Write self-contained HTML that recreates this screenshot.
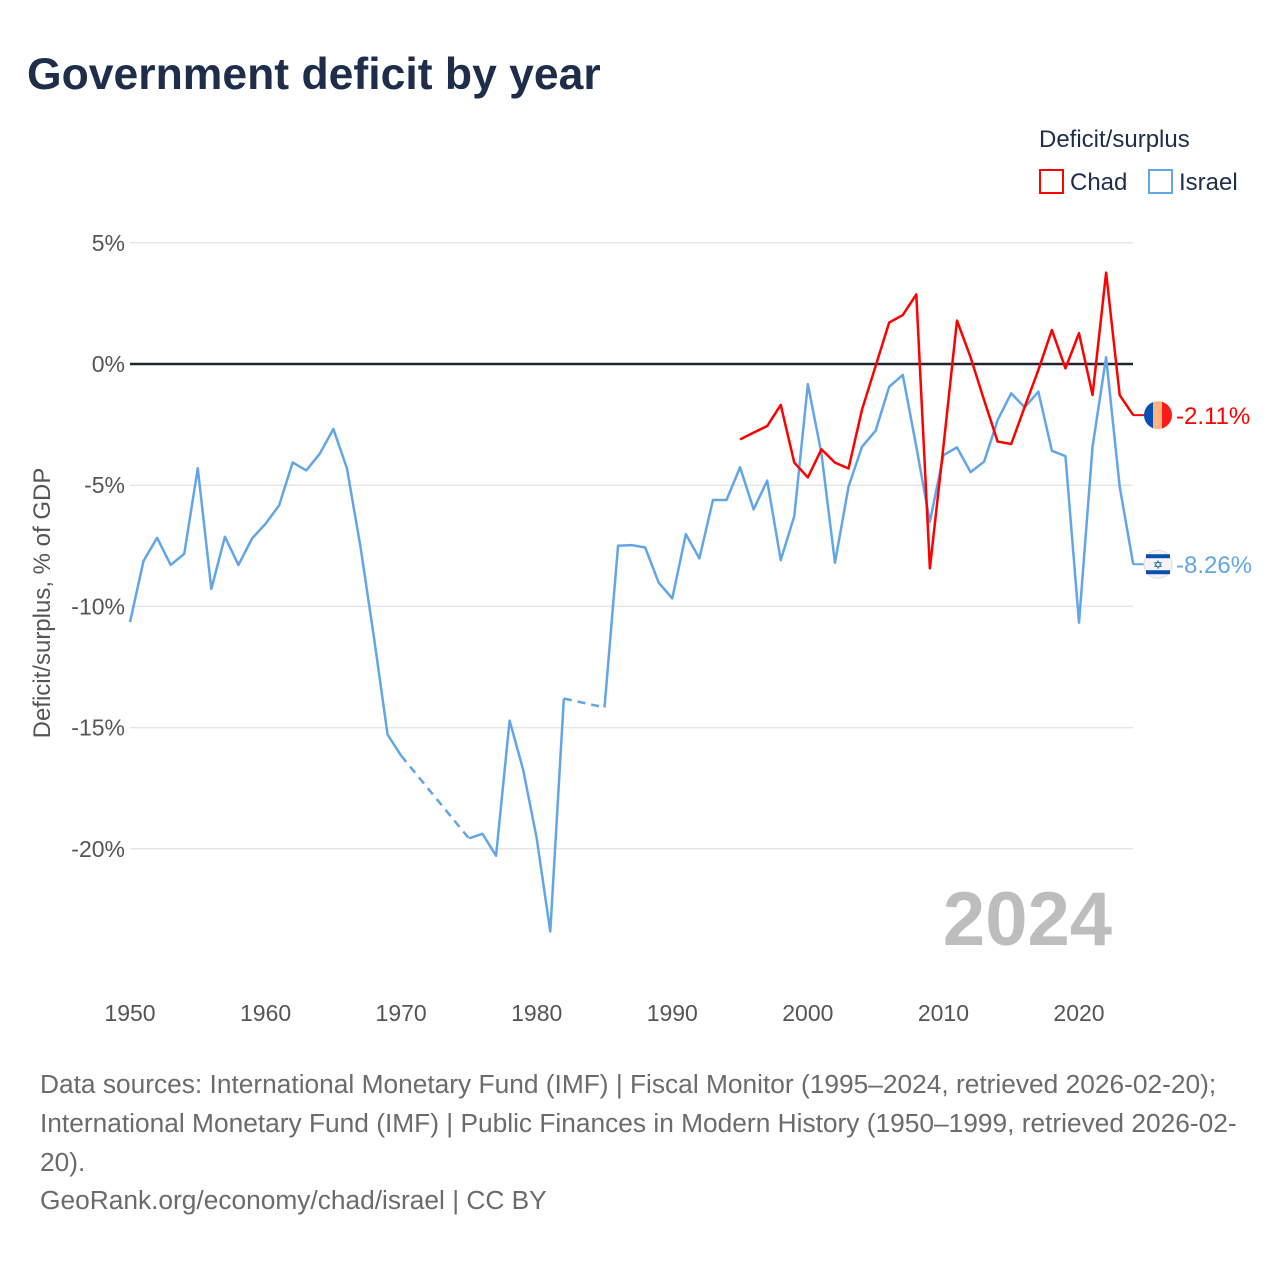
<!DOCTYPE html>
<html><head><meta charset="utf-8"><style>
html,body{margin:0;padding:0;background:#fff;}
body{width:1280px;height:1280px;position:relative;font-family:"Liberation Sans",sans-serif;overflow:hidden;}
#title{position:absolute;left:27px;top:50px;font-size:44.5px;font-weight:bold;color:#1e2d4a;margin:0;}
.foot{position:absolute;left:40px;font-size:26.3px;color:#6b6b6b;white-space:nowrap;}
</style></head><body>
<h1 id="title">Government deficit by year</h1>
<svg id="chart" width="1280" height="1060" style="position:absolute;left:0;top:0" xmlns="http://www.w3.org/2000/svg" font-family="Liberation Sans, sans-serif"></svg>
<div class="foot" style="top:1069px">Data sources: International Monetary Fund (IMF) | Fiscal Monitor (1995–2024, retrieved 2026-02-20);</div>
<div class="foot" style="top:1108px">International Monetary Fund (IMF) | Public Finances in Modern History (1950–1999, retrieved 2026-02-</div>
<div class="foot" style="top:1147px">20).</div>
<div class="foot" style="top:1185px">GeoRank.org/economy/chad/israel | CC BY</div>
<script>
const years = [];
for (let y = 1950; y <= 2024; y++) years.push(y);
const israelValues = [-10.65,-8.12,-7.17,-8.29,-7.83,-4.30,-9.28,-7.13,-8.29,-7.20,
-6.59,-5.83,-4.06,-4.39,-3.70,-2.68,-4.30,-7.54,-11.30,-15.29,
-16.16,null,null,null,null,-19.57,-19.38,-20.29,-14.71,-16.74,
-19.57,-23.41,-13.80,null,null,-14.17,-7.50,-7.47,-7.57,-9.02,
-9.67,-7.02,-8.02,-5.61,-5.61,-4.26,-6.00,-4.81,-8.09,-6.27,
-0.83,-3.69,-8.20,-5.06,-3.41,-2.75,-0.94,-0.45,-3.41,-6.51,
-3.76,-3.44,-4.46,-4.03,-2.31,-1.21,-1.79,-1.14,-3.58,-3.80,
-10.67,-3.41,0.28,-5.06,-8.26];
const chadYears = [1995,1996,1997,1998,1999,2000,2001,2002,2003,2004,2005,2006,2007,2008,2009,2010,2011,2012,2013,2014,2015,2016,2017,2018,2019,2020,2021,2022,2023,2024];
const chadValues = [-3.11,-2.83,-2.56,-1.69,-4.07,-4.68,-3.52,-4.07,-4.31,-1.87,-0.08,1.71,2.02,2.87,-8.43,-3.41,1.79,0.28,-1.49,-3.20,-3.30,-1.76,-0.25,1.40,-0.18,1.27,-1.28,3.77,-1.28,-2.11];
const yTicks = [5,0,-5,-10,-15,-20];
const yTickLabels = ["5%","0%","-5%","-10%","-15%","-20%"];
const xTicks = [1950,1960,1970,1980,1990,2000,2010,2020];

const NS = "http://www.w3.org/2000/svg";
const svg = document.getElementById('chart');
const X = yr => 130 + (yr - 1950) * (1079 - 130) / 70;
const Y = v => 364 - v * 24.24;
function el(tag, attrs, parent){const e=document.createElementNS(NS,tag);for(const k in attrs)e.setAttribute(k,attrs[k]);(parent||svg).appendChild(e);return e;}

yTicks.forEach((t,i)=>{
  const g = el('line',{x1:130,x2:1133,y1:Y(t),y2:Y(t),stroke:t===0?'#1e2633':'#e6e6e6','stroke-width':t===0?2.5:1.5});
  
  
  const l = el('text',{x:125,y:Y(t)+8,'text-anchor':'end','font-size':23,fill:'#555'});
  l.textContent = yTickLabels[i];
  
  
});
xTicks.forEach(t=>{
  const l = el('text',{x:X(t),y:1021,'text-anchor':'middle','font-size':23,fill:'#555'});
  l.textContent = t;
  
  
});
const yt = el('text',{transform:'translate(50,603) rotate(-90)','text-anchor':'middle','font-size':24,fill:'#555'});
yt.textContent = 'Deficit/surplus, % of GDP';



const wm = el('text',{x:1112,y:945,'text-anchor':'end','font-size':76,'font-weight':'bold',fill:'#bdbdbd'});
wm.textContent = '2024';



function drawSeries(xs, vs, color, name){
  let seg=[], lastPt=null, pendingGap=false;
  const solids=[], dashes=[];
  for(let i=0;i<xs.length;i++){
    if(vs[i]===null){ if(seg.length){solids.push(seg);} seg=[]; pendingGap=true; continue; }
    const p=[X(xs[i]),Y(vs[i])];
    if(pendingGap && lastPt){ dashes.push([lastPt,p]); }
    pendingGap=false;
    seg.push(p); lastPt=p;
  }
  if(seg.length) solids.push(seg);
  solids.forEach(s=>{
    const pl = el('polyline',{points:s.map(p=>p.join(',')).join(' '),fill:'none',stroke:color,'stroke-width':2.5,'stroke-linejoin':'round'});
    
    
  });
  dashes.forEach(d=>{
    const ln = el('line',{x1:d[0][0],y1:d[0][1],x2:d[1][0],y2:d[1][1],stroke:color,'stroke-width':2.5,'stroke-dasharray':'8,6'});
    
    
  });
}
drawSeries(years, israelValues, '#62a6e8', 'israel');
drawSeries(chadYears, chadValues, '#ff0000', 'chad');

const cv = chadValues[chadValues.length-1], iv = israelValues[israelValues.length-1];
const cy = Y(cv), iy = Y(iv);
const cf = el('g',{});


el('line',{x1:1133,y1:cy,x2:1146,y2:cy,stroke:'#ff0000','stroke-width':2},cf);
const cp = el('clipPath',{id:'cc'});
el('circle',{cx:1158,cy:cy,r:14},cp);
el('rect',{x:1144,y:cy-14,width:10,height:28,fill:'#0a50b4','clip-path':'url(#cc)'},cf);
el('rect',{x:1153,y:cy-14,width:10,height:28,fill:'#ffb380','clip-path':'url(#cc)'},cf);
el('rect',{x:1162,y:cy-14,width:10,height:28,fill:'#ff1a1a','clip-path':'url(#cc)'},cf);
const cl = el('text',{x:1176,y:cy+9,'font-size':24,fill:'#ff0000'});
cl.textContent = cv.toFixed(2)+'%';



const isf = el('g',{});


el('line',{x1:1133,y1:iy,x2:1146,y2:iy,stroke:'#62a6e8','stroke-width':2},isf);
el('circle',{cx:1158,cy:iy,r:14,fill:'#f4f4f4',stroke:'#ddd','stroke-width':1},isf);
el('rect',{x:1146,y:iy-10,width:24,height:4,fill:'#0a4fb0'},isf);
el('rect',{x:1146,y:iy+6,width:24,height:4,fill:'#0a4fb0'},isf);
const st = el('text',{x:1158,y:iy+5,'text-anchor':'middle','font-size':12,fill:'#0a4fb0'},isf);
st.textContent='✡';
const il = el('text',{x:1176,y:iy+9,'font-size':24,fill:'#62a6e8'});
il.textContent = iv.toFixed(2)+'%';



const lt = el('text',{x:1039,y:147,'font-size':24,fill:'#1e2d4a'});
lt.textContent='Deficit/surplus';


const lc = el('g',{});


el('rect',{x:1040,y:170,width:23,height:23,fill:'none',stroke:'#ff0000','stroke-width':2},lc);
el('text',{x:1070,y:190,'font-size':24,fill:'#1e2d4a'},lc).textContent='Chad';
const li = el('g',{});


el('rect',{x:1149,y:170,width:23,height:23,fill:'none',stroke:'#62a6e8','stroke-width':2},li);
el('text',{x:1179,y:190,'font-size':24,fill:'#1e2d4a'},li).textContent='Israel';
</script>
</body></html>
